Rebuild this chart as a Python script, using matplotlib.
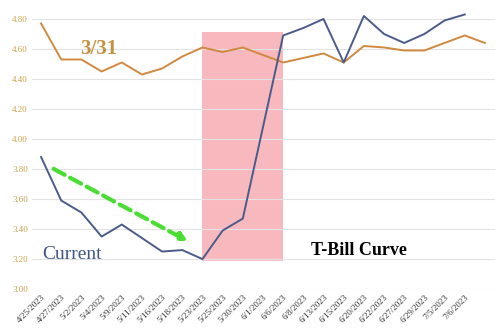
import matplotlib.pyplot as plt
from matplotlib.patches import Rectangle

dates = ["4/25/2023", "4/27/2023", "5/2/2023", "5/4/2023", "5/9/2023", "5/11/2023",
         "5/16/2023", "5/18/2023", "5/23/2023", "5/25/2023", "5/30/2023", "6/1/2023",
         "6/6/2023", "6/8/2023", "6/13/2023", "6/15/2023", "6/20/2023", "6/22/2023",
         "6/27/2023", "6/29/2023", "7/5/2023", "7/6/2023", ""]
mar31 = [4.77, 4.53, 4.53, 4.45, 4.51, 4.43, 4.47, 4.55, 4.61, 4.58, 4.61, 4.56,
         4.51, 4.54, 4.57, 4.51, 4.62, 4.61, 4.59, 4.59, 4.64, 4.69, 4.64]
current = [3.88, 3.59, 3.51, 3.35, 3.43, 3.34, 3.25, 3.26, 3.20, 3.39, 3.47, 4.08,
           4.69, 4.74, 4.80, 4.51, 4.82, 4.70, 4.64, 4.70, 4.79, 4.83]
yticks = [3.0, 3.2, 3.4, 3.6, 3.8, 4.0, 4.2, 4.4, 4.6, 4.8]

plt.rcParams['font.family'] = ['Liberation Serif', 'DejaVu Serif']

fig = plt.figure(figsize=(5, 3.3), dpi=100)
ax = fig.add_axes([0.064, 0.124, 0.926, 0.864])

# shaded window
ax.add_patch(Rectangle((8, 3.185), 4, 4.71 - 3.185, facecolor='#f6adb3',
                       edgecolor='none', alpha=0.85, zorder=1))

ax.plot(range(len(mar31)), mar31, color='#d0893f', lw=1.4, zorder=3)
ax.plot(range(len(current)), current, color='#4b5b8c', lw=1.4, zorder=3)

ax.annotate("", xy=(7.4, 3.31), xytext=(0.5, 3.81),
            arrowprops=dict(arrowstyle='-|>', color='#4ade35', lw=3.0,
                            linestyle=(0, (3, 1.5)), mutation_scale=12),
            zorder=4)

ax.text(1.95, 4.60, "3/31", color='#c4913f', fontsize=15, fontweight='bold',
        va='center', ha='left')
ax.text(0.05, 3.23, "Current", color='#3e5585', fontsize=14,
        va='center', ha='left')
ax.text(13.4, 3.26, "T-Bill Curve", color='black', fontsize=13, fontweight='bold',
        va='center', ha='left')

ax.set_xlim(-0.45, 22.5)
ax.set_ylim(3.0, 4.9)
ax.set_yticks(yticks)
ax.set_yticklabels([f"{v:.2f}" for v in yticks], color='#c9a24a', fontsize=6.5)
ax.set_xticks(range(len(dates)))
ax.set_xticklabels(dates, rotation=45, ha='right', rotation_mode='anchor',
                   fontsize=6.5, color='#333333')
ax.tick_params(length=0, pad=3)
ax.grid(axis='y', color='#e3e3e3', lw=0.8, zorder=0)
for s in ax.spines.values():
    s.set_visible(False)

fig.savefig("out.png", dpi=100)
